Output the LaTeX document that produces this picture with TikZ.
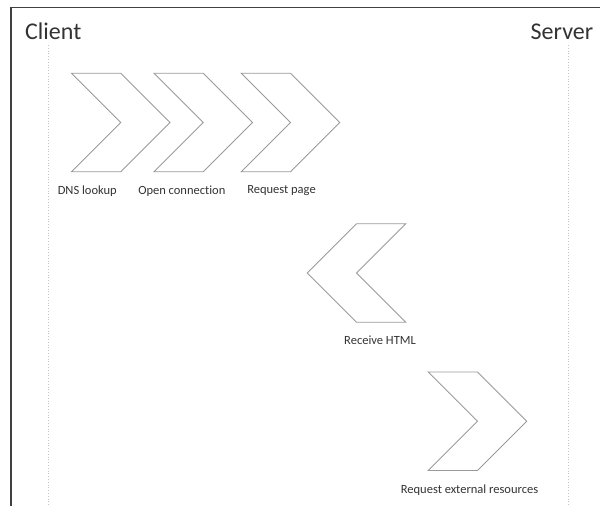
\documentclass[tikz,border=0pt]{standalone}
\usepackage{fontspec}
\setmainfont{Carlito}[Ligatures=NoCommon]
\usetikzlibrary{shapes.symbols}

\definecolor{framegray}{HTML}{404040}
\definecolor{shapegray}{HTML}{9A9A9A}
\definecolor{lanegray}{HTML}{C4C4C4}
\definecolor{textgray}{HTML}{333333}

\begin{document}
\begin{tikzpicture}[x=1pt, y=-1pt]
        \tikzset{chevron/.style={draw=shapegray, line width=0.9pt, signal, signal pointer angle=90,
                                 minimum width=98.5pt, minimum height=98.5pt, inner sep=0pt},
                 lbl/.style={text=textgray, font=\fontsize{12.5}{14}\selectfont, inner sep=0pt},
                 side/.style={text=textgray, font=\fontsize{24}{28}\selectfont, inner sep=0pt, anchor=base west},
                 lane/.style={draw=lanegray, line width=0.8pt, dotted}}
        \useasboundingbox (0,0) rectangle (600,506);
        \draw [framegray, line width=1.3pt] (11,506) -- (11,7.3) -- (600,7.3);

        % sides
        \node [side] (client) at (25,39) {Client};
        \node [side] (server) at (530.5,39) {Server};
        \coordinate (clientend) at (48.5,506);
        \coordinate (serverend) at (568,506);
        \draw [lane] (48.5,45) -- (clientend);
        \draw [lane] (568,45) -- (serverend);

        % steps
        \node [chevron, signal to=east, signal from=west] (1) at (120.7,122.5) {};
        \node [chevron, signal to=east, signal from=west] (2) at (203.3,122.5) {};
        \node [chevron, signal to=east, signal from=west] (3) at (290.5,122.5) {};
        \node [chevron, signal to=west, signal from=east] (4) at (356.5,273)   {};
        \node [chevron, signal to=east, signal from=west] (5) at (477.5,421.2) {};

        \node [lbl] (l1) at (87.3,191)  {DNS lookup};
        \node [lbl] (l2) at (181.8,191) {Open connection};
        \node [lbl] (l3) at (281.5,191) {Request page};
        \node [lbl] (l4) at (380,340.7) {Receive HTML};
        \node [lbl] (l5) at (469.5,490) {Request external resources};
    \end{tikzpicture}
\end{document}
